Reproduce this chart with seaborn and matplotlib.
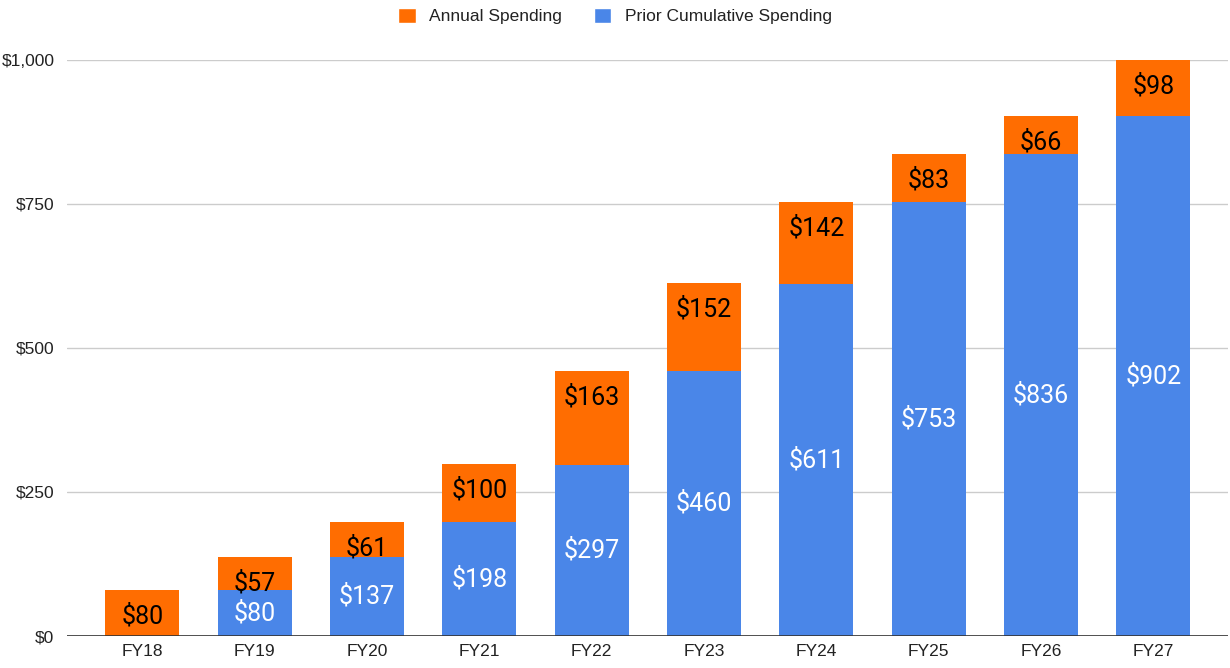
import matplotlib
matplotlib.use("Agg")
import matplotlib.pyplot as plt
import seaborn as sns
import pandas as pd
from matplotlib.patches import Patch

years = ["FY18", "FY19", "FY20", "FY21", "FY22", "FY23", "FY24", "FY25", "FY26", "FY27"]
prior = [0, 80, 137, 198, 297, 460, 611, 753, 836, 902]
annual = [80, 57, 61, 100, 163, 152, 142, 83, 66, 98]
yticks = [0, 250, 500, 750, 1000]
ytick_labels = ["$0", "$250", "$500", "$750", "$1,000"]

ORANGE = "#ff6d01"
BLUE = "#4a86e8"

sns.set_theme(style="white")
plt.rcParams["font.family"] = ["Liberation Sans", "DejaVu Sans"]

df = pd.DataFrame({"year": years, "prior": prior, "annual": annual})
df["total"] = df["prior"] + df["annual"]

fig = plt.figure(figsize=(12.3, 6.68), dpi=100)
ax = fig.add_axes([0.0545, 0.0479, 0.9435, 0.8623])

sns.barplot(data=df, x="year", y="total", color=ORANGE, width=0.66,
            saturation=1, ax=ax, zorder=2, linewidth=0, edgecolor="none")
sns.barplot(data=df, x="year", y="prior", color=BLUE, width=0.66,
            saturation=1, ax=ax, zorder=3, linewidth=0, edgecolor="none")

for i, (p, a) in enumerate(zip(prior, annual)):
    ax.annotate(f"${a}", xy=(i, p + a), xytext=(0, -18.7),
                textcoords="offset points", ha="center", va="center",
                fontsize=18, color="black", family="Roboto", zorder=5)
    if p > 0:
        ax.text(i, p / 2, f"${p}", ha="center", va="center", fontsize=18,
                color="white", family="Roboto", zorder=5)

ax.set_xlim(-0.67, 9.66)
ax.set_ylim(0, 1000)
ax.set_yticks(yticks)
ax.set_yticklabels(ytick_labels)
ax.yaxis.grid(True, color="#cccccc", linewidth=1, zorder=0)
ax.set_axisbelow(True)
ax.axhline(0, color="#333333", linewidth=1.2, zorder=4)
for s in ["top", "right", "left", "bottom"]:
    ax.spines[s].set_visible(False)
ax.tick_params(axis="both", length=0, labelsize=12.5, colors="#222222")
ax.tick_params(axis="y", pad=9)
ax.tick_params(axis="x", pad=6)
ax.set_xlabel("")
ax.set_ylabel("")

handles = [Patch(facecolor=ORANGE, label="Annual Spending"),
           Patch(facecolor=BLUE, label="Prior Cumulative Spending")]
leg = fig.legend(handles=handles, loc="upper center", bbox_to_anchor=(0.5, 1.012),
                 ncol=2, frameon=False, fontsize=12.5, handlelength=1.0,
                 handleheight=1.0, columnspacing=1.8, handletextpad=0.8)
for t in leg.get_texts():
    t.set_color("#222222")

fig.savefig("out.png", dpi=100)
